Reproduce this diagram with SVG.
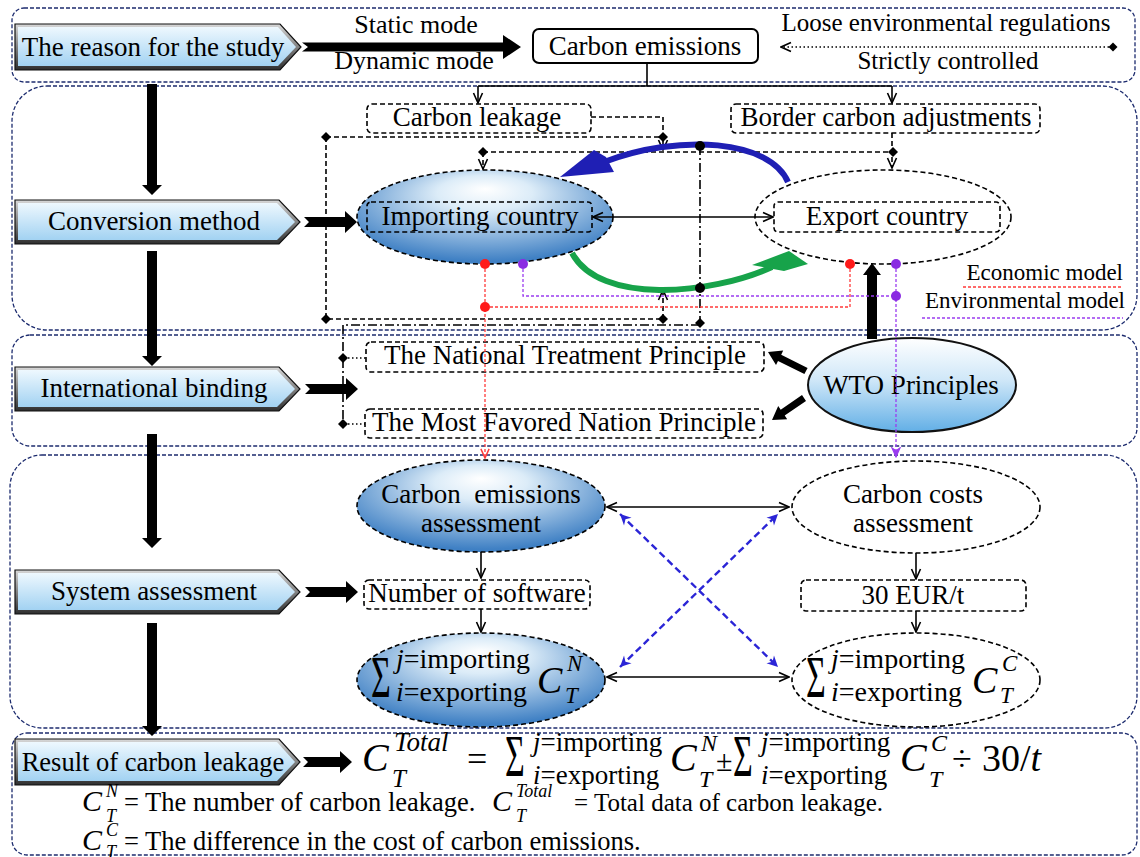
<svg xmlns="http://www.w3.org/2000/svg" width="1140" height="857" viewBox="0 0 1140 857" font-family="'Liberation Serif', 'DejaVu Serif', serif" font-size="27">
<style>
.sec{fill:none;stroke:#1c2b6e;stroke-width:1.3;stroke-dasharray:4 2}
.t{font-family:'Liberation Serif','DejaVu Serif',serif;fill:#000}
.m{font-family:'Liberation Serif','DejaVu Serif',serif;fill:#000}
.i{font-style:italic}
.db{fill:#fff;stroke:#000;stroke-width:1.6;stroke-dasharray:5 3}
.dbn{fill:none;stroke:#000;stroke-width:1.6;stroke-dasharray:5 3}
.bev{fill:url(#bevel);stroke:#111;stroke-width:1.2}
.btn{fill:url(#btnBlue)}
.c-d{fill:none;stroke:#000;stroke-width:1.6;stroke-dasharray:5 3}
.c-dd{fill:none;stroke:#000;stroke-width:1.6;stroke-dasharray:9 3 2 3}
.c-dot{fill:none;stroke:#000;stroke-width:1.4;stroke-dasharray:1.5 2.5}
.c-s{fill:none;stroke:#000;stroke-width:1.6}
.c-r{fill:none;stroke:#ff3a3a;stroke-width:1.3;stroke-dasharray:3 2}
.c-p{fill:none;stroke:#9a3cf0;stroke-width:1.3;stroke-dasharray:3 2}
.c-b{fill:none;stroke:#2b25d6;stroke-width:2.4;stroke-dasharray:7 4}
.blk{fill:#000}
</style>
<defs>
<linearGradient id="btnBlue" x1="0" y1="0" x2="0" y2="1"><stop offset="0" stop-color="#eef8fe"/><stop offset="1" stop-color="#a2d2f2"/></linearGradient>
<linearGradient id="bevel" x1="0" y1="0" x2="0" y2="1"><stop offset="0" stop-color="#d8d8d8"/><stop offset="1" stop-color="#2e2e2e"/></linearGradient>
<radialGradient id="ellBlue" cx="0.5" cy="0.35" r="0.62" fx="0.5" fy="0.2"><stop offset="0" stop-color="#ffffff"/><stop offset="0.3" stop-color="#dcecf8"/><stop offset="1" stop-color="#3f80c4"/></radialGradient>
<linearGradient id="wto" x1="0" y1="0" x2="0" y2="1"><stop offset="0" stop-color="#ffffff"/><stop offset="0.45" stop-color="#cfe7f8"/><stop offset="1" stop-color="#62afe6"/></linearGradient>
<marker id="aK" viewBox="0 0 12 12" refX="11" refY="6" markerWidth="12" markerHeight="12" markerUnits="userSpaceOnUse" orient="auto-start-reverse"><path d="M1,1.5 L11,6 L1,10.5" fill="none" stroke="#000" stroke-width="1.6"/></marker>
<marker id="aR" viewBox="0 0 12 12" refX="11" refY="6" markerWidth="11" markerHeight="11" markerUnits="userSpaceOnUse" orient="auto-start-reverse"><path d="M1,1.5 L11,6 L1,10.5" fill="none" stroke="#ff3a3a" stroke-width="1.6"/></marker>
<marker id="aP" viewBox="0 0 12 12" refX="11" refY="6" markerWidth="11" markerHeight="11" markerUnits="userSpaceOnUse" orient="auto-start-reverse"><path d="M1,1.5 L11,6 L1,10.5 L4,6Z" fill="#9a3cf0" stroke="#9a3cf0" stroke-width="1.2"/></marker>
<marker id="aB" viewBox="0 0 12 12" refX="11" refY="6" markerWidth="13" markerHeight="13" markerUnits="userSpaceOnUse" orient="auto-start-reverse"><path d="M1,1 L11,6 L1,11 L4,6Z" fill="#2b25d6"/></marker>
<marker id="dK" viewBox="0 0 10 10" refX="5" refY="5" markerWidth="10" markerHeight="10" markerUnits="userSpaceOnUse"><path d="M5,0.5 L9.5,5 L5,9.5 L0.5,5Z" fill="#000"/></marker>
<path id="dia" d="M0,-5 L5,0 L0,5 L-5,0Z" fill="#000"/>
</defs>

<g id="sections">
<rect class="sec" x="12" y="8" width="1123" height="74" rx="12"/>
<rect class="sec" x="12" y="86" width="1125" height="244" rx="35"/>
<rect class="sec" x="12" y="335" width="1125" height="111" rx="18"/>
<rect class="sec" x="10" y="455" width="1127" height="273" rx="32"/>
<rect class="sec" x="12" y="733" width="1125" height="122" rx="15"/>
</g>

<g id="node-reason">
<polygon class="bev" points="15,24 280,24 301,47 280,70 15,70"/>
<polygon class="btn" points="18,27 278,27 296,47 278,66 18,66"/>
<text class="t" x="153" y="56" text-anchor="middle" font-size="27">The reason for the study</text>
</g>
<g id="node-conversion">
<polygon class="bev" points="15,200 279,200 300,222 279,244 15,244"/>
<polygon class="btn" points="18,203 277,203 295,222 277,240 18,240"/>
<text class="t" x="154" y="230" text-anchor="middle" font-size="27">Conversion method</text>
</g>
<g id="node-international">
<polygon class="bev" points="15,367 279,367 300,389 279,411 15,411"/>
<polygon class="btn" points="18,370 277,370 295,389 277,407 18,407"/>
<text class="t" x="154" y="397" text-anchor="middle" font-size="27">International binding</text>
</g>
<g id="node-system">
<polygon class="bev" points="15,570 279,570 300,592 279,614 15,614"/>
<polygon class="btn" points="18,573 277,573 295,592 277,610 18,610"/>
<text class="t" x="154" y="600" text-anchor="middle" font-size="27">System assessment</text>
</g>
<g id="node-result">
<polygon class="bev" points="15,739 279,739 300,762 279,785 15,785"/>
<polygon class="btn" points="18,742 277,742 295,762 277,781 18,781"/>
<text class="t" x="153" y="771" text-anchor="middle" font-size="26.5">Result of carbon leakage</text>
</g>

<g id="node-carbon-emissions">
<rect x="533" y="29" width="225" height="34" rx="6" fill="#fff" stroke="#000" stroke-width="2"/>
<text class="t" x="645" y="55" text-anchor="middle" font-size="27">Carbon emissions</text>
</g>
<g id="labels-top">
<text class="t" x="416" y="33" text-anchor="middle" font-size="26">Static mode</text>
<text class="t" x="414" y="69" text-anchor="middle" font-size="26">Dynamic mode</text>
<text class="t" x="946" y="31" text-anchor="middle" font-size="25">Loose environmental regulations</text>
<text class="t" x="948" y="69" text-anchor="middle" font-size="25">Strictly controlled</text>
</g>

<g id="node-carbon-leakage">
<rect class="db" x="367" y="104" width="224" height="29" rx="5"/>
<text class="t" x="477" y="126" text-anchor="middle">Carbon leakage</text>
</g>
<g id="node-bca">
<rect class="db" x="731" y="104" width="309" height="29" rx="5"/>
<text class="t" x="886" y="126" text-anchor="middle">Border carbon adjustments</text>
</g>
<g id="node-importing">
<ellipse cx="485" cy="217" rx="128" ry="47" fill="url(#ellBlue)" stroke="#000" stroke-width="1.6" stroke-dasharray="5 3"/>
<rect class="dbn" x="367" y="202" width="225" height="30" rx="4"/>
<text class="t" x="480" y="225" text-anchor="middle">Importing country</text>
</g>
<g id="node-export">
<ellipse cx="883" cy="217" rx="128" ry="47" fill="#fff" stroke="#000" stroke-width="1.6" stroke-dasharray="5 3"/>
<rect class="dbn" x="774" y="202" width="226" height="30" rx="4"/>
<text class="t" x="887" y="225" text-anchor="middle">Export country</text>
</g>
<g id="legend">
<text class="t" x="1123" y="280" text-anchor="end" font-size="23">Economic model</text>
<line class="c-r" x1="963" y1="287" x2="1123" y2="287"/>
<text class="t" x="1125" y="308" text-anchor="end" font-size="23">Environmental model</text>
<line class="c-p" x1="922" y1="318" x2="1123" y2="318"/>
</g>

<g id="node-nt">
<rect class="db" x="366" y="342" width="398" height="30" rx="5"/>
<text class="t" x="565" y="364" text-anchor="middle">The National Treatment Principle</text>
</g>
<g id="node-mfn">
<rect class="db" x="365" y="409" width="398" height="29" rx="5"/>
<text class="t" x="564" y="431" text-anchor="middle">The Most Favored Nation Principle</text>
</g>
<g id="node-wto">
<ellipse cx="912" cy="385" rx="104" ry="47" fill="url(#wto)" stroke="#111" stroke-width="2"/>
<text class="t" x="911" y="394" text-anchor="middle">WTO Principles</text>
</g>

<g id="node-cea">
<ellipse cx="481" cy="506" rx="124" ry="46" fill="url(#ellBlue)" stroke="#000" stroke-width="1.6" stroke-dasharray="5 3"/>
<text class="t" x="481" y="503" text-anchor="middle" xml:space="preserve">Carbon  emissions</text>
<text class="t" x="481" y="532" text-anchor="middle">assessment</text>
</g>
<g id="node-nos">
<rect class="db" x="364" y="580" width="226" height="29" rx="5"/>
<text class="t" x="477" y="602" text-anchor="middle">Number of software</text>
</g>
<g id="node-sumN">
<ellipse cx="481" cy="680" rx="124" ry="47" fill="url(#ellBlue)" stroke="#000" stroke-width="1.6" stroke-dasharray="5 3"/>
<text class="m" transform="translate(371,697) scale(1,1.75)" font-size="34">Σ</text>
<text class="m" x="396" y="668" font-size="28"><tspan class="i">j</tspan>=importing</text>
<text class="m" x="396" y="701" font-size="28"><tspan class="i">i</tspan>=exporting</text>
<text class="m i" x="537" y="693" font-size="38">C</text>
<text class="m i" x="567" y="671" font-size="23">N</text>
<text class="m i" x="565" y="703" font-size="23">T</text>
</g>
<g id="node-cca">
<ellipse cx="916" cy="507" rx="124" ry="46" fill="#fff" stroke="#000" stroke-width="1.6" stroke-dasharray="5 3"/>
<text class="t" x="913" y="503" text-anchor="middle">Carbon costs</text>
<text class="t" x="913" y="532" text-anchor="middle">assessment</text>
</g>
<g id="node-eur">
<rect class="db" x="801" y="580" width="225" height="31" rx="5"/>
<text class="t" x="913" y="604" text-anchor="middle">30 EUR/t</text>
</g>
<g id="node-sumC">
<ellipse cx="916" cy="680" rx="124" ry="47" fill="#fff" stroke="#000" stroke-width="1.6" stroke-dasharray="5 3"/>
<text class="m" transform="translate(806,697) scale(1,1.75)" font-size="34">Σ</text>
<text class="m" x="831" y="668" font-size="28"><tspan class="i">j</tspan>=importing</text>
<text class="m" x="831" y="701" font-size="28"><tspan class="i">i</tspan>=exporting</text>
<text class="m i" x="972" y="693" font-size="38">C</text>
<text class="m i" x="1002" y="671" font-size="23">C</text>
<text class="m i" x="1000" y="703" font-size="23">T</text>
</g>

<g id="formula">
<text class="m i" x="362" y="771" font-size="40">C</text>
<text class="m i" x="394" y="751" font-size="27">Total</text>
<text class="m i" x="392" y="787" font-size="25">T</text>
<text class="m" x="467" y="771" font-size="36">=</text>
<text class="m" transform="translate(505,776) scale(1,1.75)" font-size="34">Σ</text>
<text class="m" x="533" y="751" font-size="27"><tspan class="i">j</tspan>=importing</text>
<text class="m" x="533" y="784" font-size="27"><tspan class="i">i</tspan>=exporting</text>
<text class="m i" x="670" y="771" font-size="40">C</text>
<text class="m i" x="701" y="751" font-size="24">N</text>
<text class="m i" x="699" y="787" font-size="24">T</text>
<text class="m" x="716" y="771" font-size="30">±</text>
<text class="m" transform="translate(733,776) scale(1,1.75)" font-size="34">Σ</text>
<text class="m" x="761" y="751" font-size="27"><tspan class="i">j</tspan>=importing</text>
<text class="m" x="761" y="784" font-size="27"><tspan class="i">i</tspan>=exporting</text>
<text class="m i" x="900" y="771" font-size="40">C</text>
<text class="m i" x="931" y="751" font-size="24">C</text>
<text class="m i" x="929" y="787" font-size="24">T</text>
<text class="m" x="952" y="771" font-size="36">÷</text>
<text class="m" x="982" y="771" font-size="38">30/<tspan class="i">t</tspan></text>
</g>
<g id="footnotes">
<text class="m i" x="82" y="811" font-size="30">C</text>
<text class="m i" x="106" y="797" font-size="18">N</text>
<text class="m i" x="106" y="822" font-size="18">T</text>
<text class="t" x="124" y="811" font-size="26.5">= The number of carbon leakage.</text>
<text class="m i" x="492" y="811" font-size="30">C</text>
<text class="m i" x="516" y="797" font-size="18">Total</text>
<text class="m i" x="516" y="822" font-size="18">T</text>
<text class="t" x="574" y="811" font-size="25">= Total data of carbon leakage.</text>
<text class="m i" x="82" y="850" font-size="30">C</text>
<text class="m i" x="106" y="836" font-size="18">C</text>
<text class="m i" x="106" y="858" font-size="18">T</text>
<text class="t" x="124" y="850" font-size="26.5">= The difference in the cost of carbon emissions.</text>
</g>

<g id="connectors">
<polygon class="blk" points="302,42.5 503,42.5 503,35 521,47 503,59 503,51.5 302,51.5 308,47"/>
<polygon class="blk" points="304,217 345,217 345,211 357,222 345,233 345,227 304,227 309,222"/>
<polygon class="blk" points="305,384 346,384 346,378 358,389 346,400 346,394 305,394 310,389"/>
<polygon class="blk" points="305,587 346,587 346,581 358,592 346,603 346,597 305,597 310,592"/>
<polygon class="blk" points="303,757 340,757 340,751 352,762 340,773 340,767 303,767 308,762"/>
<polygon class="blk" points="147,84 157,84 157,185 162,185 152,195 142,185 147,185"/>
<polygon class="blk" points="147,251 157,251 157,356 162,356 152,366 142,356 147,356"/>
<polygon class="blk" points="147,434 157,434 157,538 162,538 152,548 142,538 147,538"/>
<polygon class="blk" points="147,623 157,623 157,726 162,726 152,736 142,726 147,726"/>
<polygon class="blk" points="867,339 877,339 877,275 881,275 872,263 863,275 867,275"/>
<polygon class="blk" points="807.6,367.9 781.2,354.7 783.2,350.6 768,352 776,365 778,360.9 804.4,374.1"/>
<polygon class="blk" points="806,400.9 784.7,415.5 787.2,419.2 772,420 778.2,406 780.7,409.7 802,395.1"/>

<path class="c-dot" d="M1113,47 H781" marker-start="url(#dK)" marker-end="url(#aK)"/>
<path class="c-s" d="M647,63 V86" stroke-width="2"/>
<path class="c-s" d="M478,86 H892" stroke-width="2"/>
<path class="c-s" d="M478,86 V103" marker-end="url(#aK)"/>
<path class="c-s" d="M892,86 V103" marker-end="url(#aK)"/>

<path class="c-d" d="M591,117 H663 V150" marker-end="url(#aK)"/>
<path class="c-d" d="M326,137 H663"/>
<path class="c-d" d="M326,137 V319 H663"/>
<path class="c-d" d="M663,319 V290" marker-end="url(#aK)"/>
<path class="c-d" d="M483,152 H893"/>
<path class="c-d" d="M483,152 V169" marker-end="url(#aK)"/>
<path class="c-d" d="M892,133 V168" marker-end="url(#aK)"/>
<use href="#dia" x="326" y="137"/>
<use href="#dia" x="663" y="137"/>
<use href="#dia" x="326" y="319"/>
<use href="#dia" x="663" y="319"/>
<use href="#dia" x="483" y="152"/>
<use href="#dia" x="893" y="152"/>
<path class="c-dd" d="M700,146 V323"/>
<path class="c-dd" d="M700,325 H343 V424"/>
<use href="#dia" x="700" y="323"/>
<use href="#dia" x="343" y="358"/>
<use href="#dia" x="343" y="424"/>
<path class="c-dot" d="M348,358 H366"/>
<path class="c-dot" d="M348,424 H365"/>

<path class="c-s" d="M593,217 H773" marker-start="url(#aK)" marker-end="url(#aK)"/>

<path d="M788,182 C770,140 680,133 604,162" fill="none" stroke="#1f1fb4" stroke-width="6"/>
<polygon points="560,177 594,150 606,157 614,172" fill="#1f1fb4"/>
<path d="M572,253 C600,305 710,295 772,267" fill="none" stroke="#17a34a" stroke-width="6"/>
<polygon points="752,265 789,251 808,264 784,271" fill="#17a34a"/>
<circle cx="700" cy="146" r="5" fill="#000"/>
<circle cx="700" cy="288" r="5" fill="#000"/>

<path class="c-r" d="M485,264 V458" marker-end="url(#aR)"/>
<path class="c-r" d="M485,307 H850 V264"/>
<path class="c-p" d="M523,264 V296 H896"/>
<path class="c-p" d="M896,264 V457" marker-end="url(#aP)"/>
<circle cx="485" cy="264" r="5" fill="#ff1a1a"/>
<circle cx="485" cy="307" r="5" fill="#ff1a1a"/>
<circle cx="850" cy="264" r="5" fill="#ff1a1a"/>
<circle cx="523" cy="264" r="5" fill="#8a2be2"/>
<circle cx="896" cy="264" r="5" fill="#8a2be2"/>
<circle cx="896" cy="296" r="5" fill="#8a2be2"/>

<path class="c-s" d="M607,507 H789" marker-start="url(#aK)" marker-end="url(#aK)"/>
<path class="c-s" d="M607,677 H789" marker-start="url(#aK)" marker-end="url(#aK)"/>
<path class="c-s" d="M481,552 V578" marker-end="url(#aK)"/>
<path class="c-s" d="M481,609 V632" marker-end="url(#aK)"/>
<path class="c-s" d="M916,553 V579" marker-end="url(#aK)"/>
<path class="c-s" d="M916,611 V632" marker-end="url(#aK)"/>
<path class="c-b" d="M620,514 L778,667" marker-start="url(#aB)" marker-end="url(#aB)"/>
<path class="c-b" d="M620,667 L778,514" marker-start="url(#aB)" marker-end="url(#aB)"/>
</g>
</svg>
